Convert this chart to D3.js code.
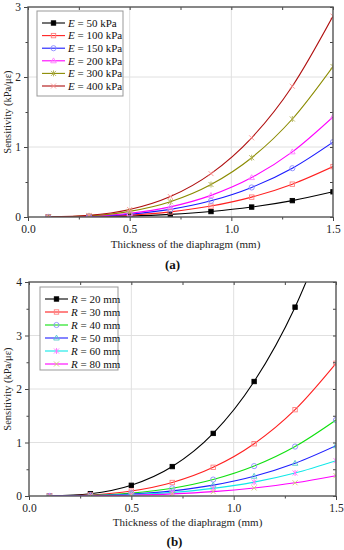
<!DOCTYPE html>
<html>
<head>
<meta charset="utf-8">
<script src="https://cdn.jsdelivr.net/npm/d3@7"></script>
<style>
  body { margin: 0; background: #fff; }
  svg text { font-family: "Liberation Serif", "Times New Roman", "DejaVu Serif", serif !important; }
</style>
</head>
<body>
<div id="chart"></div>
<script>
// thickness values (mm)
const thickness = [0.1, 0.3, 0.5, 0.7, 0.9, 1.1, 1.3, 1.5];

// panel (a): sensitivity vs thickness for several E
const labelsA = ["50 kPa", "100 kPa", "150 kPa", "200 kPa", "300 kPa", "400 kPa"];
const valuesA = [
  [0.0001, 0.003, 0.013, 0.037, 0.078, 0.142, 0.234, 0.36],
  [0.0002, 0.006, 0.027, 0.073, 0.156, 0.284, 0.469, 0.72],
  [0.0003, 0.009, 0.040, 0.109, 0.231, 0.422, 0.697, 1.07],
  [0.0004, 0.011, 0.053, 0.145, 0.309, 0.563, 0.931, 1.43],
  [0.0006, 0.017, 0.080, 0.218, 0.464, 0.847, 1.400, 2.15],
  [0.0008, 0.023, 0.106, 0.292, 0.620, 1.131, 1.868, 2.87]
];
const yTicksA = [0, 1, 2, 3];

// panel (b): sensitivity vs thickness for several R
const labelsB = ["20 mm", "30 mm", "40 mm", "50 mm", "60 mm", "80 mm"];
const valuesB = [
  [0.0016, 0.043, 0.200, 0.550, 1.170, 2.140, 3.530, 5.42],
  [0.0007, 0.020, 0.092, 0.252, 0.536, 0.977, 1.614, 2.48],
  [0.0004, 0.011, 0.053, 0.144, 0.307, 0.559, 0.924, 1.42],
  [0.0003, 0.0075, 0.035, 0.095, 0.203, 0.370, 0.612, 0.94],
  [0.0002, 0.005, 0.024, 0.067, 0.143, 0.260, 0.430, 0.66],
  [0.0001, 0.003, 0.014, 0.039, 0.082, 0.150, 0.247, 0.38]
];
const yTicksB = [0, 1, 2, 3, 4];

const xTicks = [0.0, 0.5, 1.0, 1.5];

const stylesA = [
  { line: "#000000", mark: "#000000", shape: "square", fill: true },
  { line: "#ff2020", mark: "#ff8080", shape: "square" },
  { line: "#1a1aff", mark: "#8a8aff", shape: "circle" },
  { line: "#ff00ff", mark: "#ff80ff", shape: "triangle" },
  { line: "#8b8b00", mark: "#b0b050", shape: "star" },
  { line: "#b01010", mark: "#ff9090", shape: "cross" }
];
const stylesB = [
  { line: "#000000", mark: "#000000", shape: "square", fill: true },
  { line: "#ff2020", mark: "#ff8080", shape: "square" },
  { line: "#10e010", mark: "#8c8cff", shape: "circle" },
  { line: "#2020ff", mark: "#50c8c8", shape: "triangle" },
  { line: "#10e8e8", mark: "#ff70ff", shape: "star" },
  { line: "#ff00ff", mark: "#d0c870", shape: "cross" }
];

const W = 344, H = 550;
const svg = d3.select("#chart").append("svg").attr("width", W).attr("height", H);

function marker(g, s, cx, cy) {
  if (s.shape === "square") {
    g.append("rect").attr("x", cx - 2.2).attr("y", cy - 2.2).attr("width", 4.4).attr("height", 4.4)
      .attr("fill", s.fill ? s.mark : "none").attr("stroke", s.mark).attr("stroke-width", 0.9);
  } else if (s.shape === "circle") {
    g.append("circle").attr("cx", cx).attr("cy", cy).attr("r", 2.6)
      .attr("fill", "none").attr("stroke", s.mark).attr("stroke-width", 0.9);
  } else if (s.shape === "triangle") {
    g.append("path").attr("d", `M${cx},${cy - 2.9}L${cx + 2.8},${cy + 2}L${cx - 2.8},${cy + 2}Z`)
      .attr("fill", "none").attr("stroke", s.mark).attr("stroke-width", 0.9);
  } else if (s.shape === "star") {
    g.append("path").attr("d", `M${cx - 2.5},${cy - 2.5}L${cx + 2.5},${cy + 2.5}M${cx + 2.5},${cy - 2.5}L${cx - 2.5},${cy + 2.5}M${cx},${cy - 3}L${cx},${cy + 3}`)
      .attr("stroke", s.mark).attr("stroke-width", 0.9);
  } else {
    g.append("path").attr("d", `M${cx - 2.5},${cy - 2.5}L${cx + 2.5},${cy + 2.5}M${cx + 2.5},${cy - 2.5}L${cx - 2.5},${cy + 2.5}`)
      .attr("stroke", s.mark).attr("stroke-width", 0.9);
  }
}

function drawPanel(p) {
  const x = d3.scaleLinear().domain([0, 1.5]).range([p.left, p.right]);
  const y = d3.scaleLinear().domain([0, p.ymax]).range([p.bottom, p.top]);
  const g = svg.append("g");

  // grid
  g.append("g").selectAll("line").data([0.5, 1.0]).join("line")
    .attr("x1", d => x(d)).attr("x2", d => x(d)).attr("y1", p.top).attr("y2", p.bottom)
    .attr("stroke", "#e0e0e0").attr("stroke-width", 1);
  g.append("g").selectAll("line").data(p.yTicks.filter(d => d > 0 && d < p.ymax)).join("line")
    .attr("y1", d => y(d)).attr("y2", d => y(d)).attr("x1", p.left).attr("x2", p.right)
    .attr("stroke", "#e0e0e0").attr("stroke-width", 1);

  // clip
  const clipId = "clip-" + p.name;
  svg.append("clipPath").attr("id", clipId).append("rect")
    .attr("x", p.left).attr("y", p.top).attr("width", p.right - p.left).attr("height", p.bottom - p.top);

  const line = d3.line().x((d, i) => x(thickness[i])).y(d => y(d)).curve(d3.curveMonotoneX);
  const series = g.append("g").attr("clip-path", `url(#${clipId})`);
  p.values.forEach((vals, k) => {
    const s = p.styles[k];
    series.append("path").attr("d", line(vals)).attr("fill", "none")
      .attr("stroke", s.line).attr("stroke-width", 1.1);
  });
  p.values.forEach((vals, k) => {
    const s = p.styles[k];
    const mg = series.append("g");
    vals.forEach((v, i) => marker(mg, s, x(thickness[i]), y(v)));
  });

  // axes
  const yMinor = d3.range(0.5, p.ymax, 1);
  const xMinor = [0.25, 0.75, 1.25];
  g.append("g").attr("transform", `translate(0,${p.bottom})`)
    .call(d3.axisBottom(x).tickValues(xTicks).tickFormat(d3.format(".1f")).tickSize(4).tickPadding(4).tickSizeOuter(0))
    .call(a => a.select(".domain").remove());
  g.append("g").attr("transform", `translate(0,${p.bottom})`)
    .call(d3.axisBottom(x).tickValues(xMinor).tickFormat("").tickSize(2.5).tickSizeOuter(0))
    .call(a => a.select(".domain").remove());
  g.append("g").attr("transform", `translate(0,${p.top})`)
    .call(d3.axisBottom(x).tickValues(xTicks.concat(xMinor)).tickFormat("").tickSize(3).tickSizeOuter(0))
    .call(a => a.select(".domain").remove());
  g.append("g").attr("transform", `translate(${p.left},0)`)
    .call(d3.axisLeft(y).tickValues(p.yTicks).tickFormat(d3.format("d")).tickSize(4).tickPadding(3).tickSizeOuter(0))
    .call(a => a.select(".domain").remove());
  g.append("g").attr("transform", `translate(${p.left},0)`)
    .call(d3.axisLeft(y).tickValues(yMinor).tickFormat("").tickSize(2.5).tickSizeOuter(0))
    .call(a => a.select(".domain").remove());
  g.append("g").attr("transform", `translate(${p.right},0)`)
    .call(d3.axisLeft(y).tickValues(p.yTicks.concat(yMinor)).tickFormat("").tickSize(3).tickSizeOuter(0))
    .call(a => a.select(".domain").remove());
  g.selectAll(".tick line").attr("stroke", "#444");
  g.selectAll(".tick text").attr("fill", "#222").attr("font-size", 11.5);

  // frame
  g.append("rect").attr("x", p.left).attr("y", p.top)
    .attr("width", p.right - p.left).attr("height", p.bottom - p.top)
    .attr("fill", "none").attr("stroke", "#555").attr("stroke-width", 1.4);

  // axis titles
  g.append("text").attr("x", (p.left + p.right) / 2 + 5).attr("y", p.bottom + p.titleY)
    .attr("text-anchor", "middle").attr("font-size", 11).attr("fill", "#222")
    .text("Thickness of the diaphragm (mm)");
  g.append("text").attr("transform", `translate(11,${(p.top + p.bottom) / 2}) rotate(-90)`)
    .attr("text-anchor", "middle").attr("font-size", 10.5).attr("fill", "#222")
    .text("Sensitivity (kPa/με)");
  g.append("text").attr("x", (p.left + p.right) / 2 - 8).attr("y", p.bottom + p.capY)
    .attr("text-anchor", "middle").attr("font-size", 13).attr("font-weight", "bold")
    .attr("fill", "#111")
    .text(`(${p.name})`);

  // legend
  const lg = g.append("g");
  lg.append("rect").attr("x", p.legend.x).attr("y", p.legend.y)
    .attr("width", p.legend.w).attr("height", p.legend.h)
    .attr("fill", "#fff").attr("stroke", "#999").attr("stroke-width", 1);
  p.labels.forEach((lab, k) => {
    const s = p.styles[k];
    const cy = p.legend.y + 12 + k * p.legend.step;
    const lx = p.legend.x + 5;
    lg.append("line").attr("x1", lx).attr("x2", lx + 23).attr("y1", cy).attr("y2", cy)
      .attr("stroke", s.line).attr("stroke-width", 1.1);
    marker(lg, s, lx + 11.5, cy);
    const t = lg.append("text").attr("x", lx + 26).attr("y", cy + 3.8)
      .attr("font-size", 11).attr("fill", "#111");
    t.append("tspan").attr("font-style", "italic").text(p.sym);
    t.append("tspan").text(" = " + lab);
  });
}

drawPanel({
  name: "a", left: 28, right: 333, top: 7, bottom: 217, ymax: 3, yTicks: yTicksA,
  values: valuesA, styles: stylesA, labels: labelsA, sym: "E", capY: 52, titleY: 31,
  legend: { x: 37, y: 11, w: 86, h: 85, step: 12.6 }
});
drawPanel({
  name: "b", left: 29, right: 336, top: 282, bottom: 496, ymax: 4, yTicks: yTicksB,
  values: valuesB, styles: stylesB, labels: labelsB, sym: "R", capY: 50, titleY: 30,
  legend: { x: 40, y: 287, w: 78, h: 83, step: 13 }
});
</script>
</body>
</html>
